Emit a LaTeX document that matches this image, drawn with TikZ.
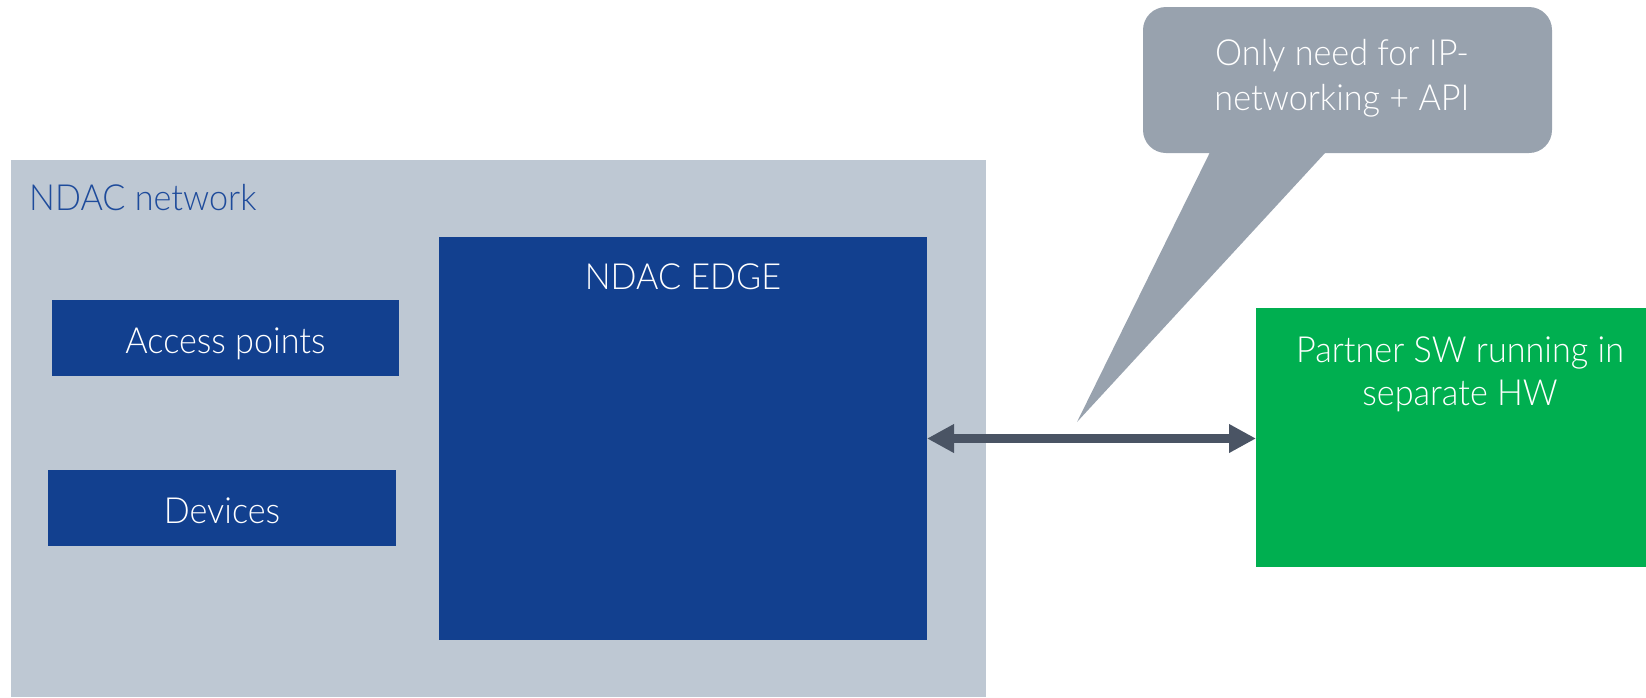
\documentclass[tikz,border=0pt]{standalone}
\usepackage{fontspec}
\setmainfont{Lato Light}[FakeStretch=0.95]
\usetikzlibrary{arrows.meta}
\definecolor{netgray}{HTML}{BEC8D3}
\definecolor{ndblue}{HTML}{12408F}
\definecolor{textblue}{HTML}{1E4B9B}
\definecolor{callgray}{HTML}{98A2AE}
\definecolor{arrowgray}{HTML}{4A5464}
\definecolor{partnergreen}{HTML}{00AF50}
\begin{document}
\begin{tikzpicture}[x=1pt,y=-1pt,
  font=\fontsize{36}{44}\selectfont,
  area/.style={draw=none, inner sep=0pt, outer sep=0pt},
  bluebox/.style={area, fill=ndblue, text=white, text height=35pt, text depth=5pt},
  whitetext/.style={text=white, inner sep=0pt, align=center, anchor=base},
  biarrow/.style={arrowgray, line width=9pt, >={Triangle[length=27pt,width=27pt]}, <->}]
\useasboundingbox (0,0) rectangle (1646,697);
% NDAC network container
\node[area, fill=netgray, minimum width=975pt, minimum height=537pt] (net) at (498.5,428.5) {};
\node[inner sep=0pt, anchor=base west, text=textblue] (netlbl) at (29,210) {NDAC network};
% inner boxes
\node[bluebox, minimum width=347pt, minimum height=76pt] (ap) at (225.5,338) {Access points};
\node[bluebox, minimum width=348pt, minimum height=76pt] (dev) at (222,508) {Devices};
\node[area, fill=ndblue, minimum width=488pt, minimum height=403pt] (edge) at (683,438.5) {};
\node[whitetext] (edgelbl) at (683,289) {NDAC EDGE};
% partner
\node[area, fill=partnergreen, minimum width=408pt, minimum height=259pt] (partner) at (1460,437.5) {};
\node[whitetext, font=\fontsize{36}{43}\selectfont] (partnerlbl) at (1460,405) {Partner SW running in\\separate HW};
% callout
\fill[callgray, rounded corners=23pt] (1143,7) rectangle (1552,153);
\fill[callgray] (1216,140) -- (1077,422) -- (1337,140) -- cycle;
\node[whitetext, font=\fontsize{36}{45}\selectfont] (calllbl) at (1342,110) {Only need for IP-\\networking + API};
% connector
\draw[biarrow] (edge.east) -- (edge.east -| partner.west);
\end{tikzpicture}
\end{document}
